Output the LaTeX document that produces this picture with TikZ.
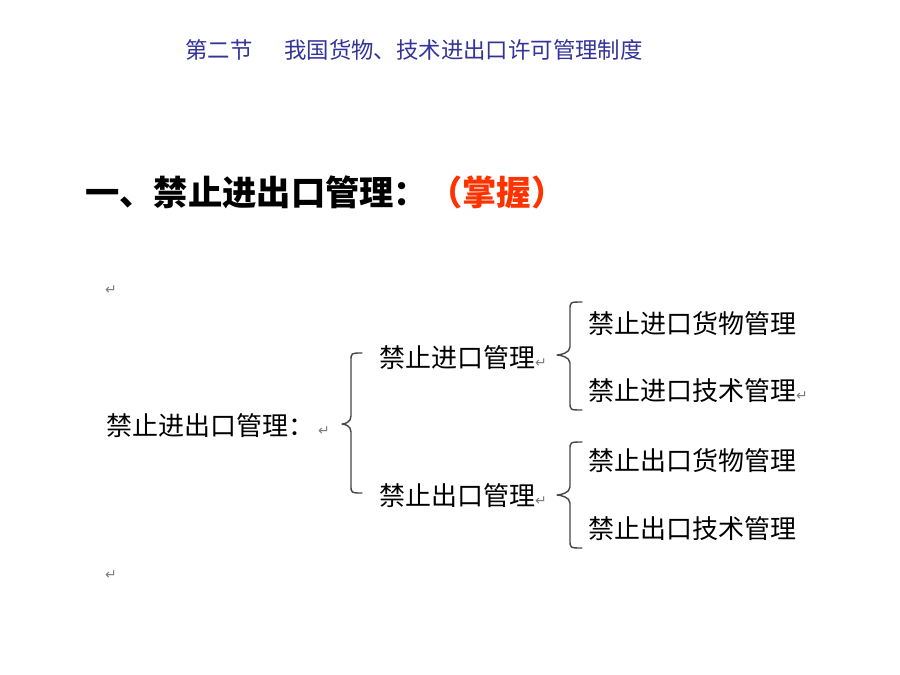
\documentclass[tikz,border=0pt]{standalone}
\usepackage{fontspec}
\newfontfamily\cjk{Noto Sans CJK SC}
\newfontfamily\symf{DejaVu Sans}
\definecolor{hdrblue}{RGB}{51,51,153}
\definecolor{keyred}{RGB}{255,51,0}
\definecolor{markgray}{RGB}{125,125,125}
\definecolor{bracegray}{RGB}{70,70,70}
\newcommand{\retmark}{{\symf\fontsize{14pt}{14pt}\selectfont\textcolor{markgray}{↵}}}
\tikzset{
  txt/.style={inner sep=0pt, anchor=base west, font=\cjk\fontsize{26pt}{26pt}\selectfont},
  hdr/.style={inner sep=0pt, anchor=base west, text=hdrblue, font=\cjk\fontsize{22.4pt}{22.4pt}\selectfont},
  ttl/.style={inner sep=0pt, anchor=base west, font=\cjk\bfseries\fontsize{34.3pt}{34.3pt}\selectfont},
  brc/.style={draw=bracegray, line width=1.4pt, line cap=round, line join=round},
  rm/.style={inner sep=0pt, anchor=base west}
}
% brace: #1 = x of ends, #2 = x of stem, #3 = x of tip, #4 top y, #5 tip y, #6 bottom y
\newcommand{\wordbrace}[6]{%
  \draw[brc] (#1,#4) .. controls (#2,#4) and (#2,#4) .. (#2,#4+8)
    -- (#2,#5-8) .. controls (#2,#5-2) and (#3+3,#5) .. (#3,#5)
    .. controls (#3+3,#5) and (#2,#5+2) .. (#2,#5+8)
    -- (#2,#6-8) .. controls (#2,#6) and (#2,#6) .. (#1,#6);}
\begin{document}
\begin{tikzpicture}[x=1pt,y=-1pt]
\useasboundingbox (0,0) rectangle (900,675);
\fill[white] (0,0) rectangle (900,675);
% header
\node[hdr] (head) at (185,58) {第二节\hspace{32pt}我国货物、技术进出口许可管理制度};
% title
\node[ttl] (title) at (85,205) {一、禁止进出口管理：\textcolor{keyred}{（掌握）}};
% return marks
\node[rm] (rm1) at (105,294) {\retmark};
\node[rm] (rm2) at (105,579) {\retmark};
% diagram
\node[txt] (root) at (106,435) {禁止进出口管理：\hspace{4pt}\retmark};
\node[txt] (imp) at (379,367) {禁止进口管理\retmark};
\node[txt] (exp) at (379,505) {禁止出口管理\retmark};
\node[txt] (ig) at (588,333) {禁止进口货物管理};
\node[txt] (it) at (588,400) {禁止进口技术管理\retmark};
\node[txt] (eg) at (588,470) {禁止出口货物管理};
\node[txt] (et) at (588,538) {禁止出口技术管理};
% braces
\wordbrace{362}{351}{342}{353}{424}{493}
\wordbrace{582}{570}{557}{302}{355}{410}
\wordbrace{582}{570}{557}{442}{495}{548}
\end{tikzpicture}
\end{document}
